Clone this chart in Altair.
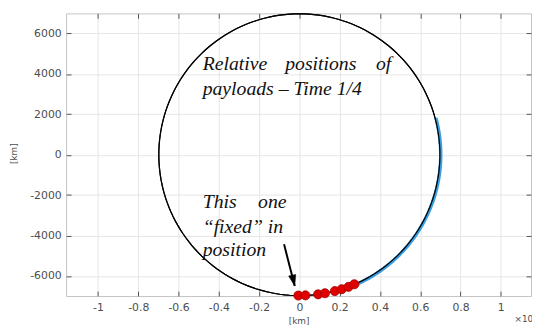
import numpy as np
import pandas as pd
import altair as alt

# ---- data ----
orbit_radius_km = 6978
orbit_deg = list(range(0, 361, 2))
arc_deg = list(range(-68, 16, 1))

payload_x = [-50, 300, 930, 1270, 1760, 2100, 2440, 2730]
payload_y = [-6975, -6965, -6915, -6860, -6755, -6660, -6545, -6415]

x_ticks = [-10000, -8000, -6000, -4000, -2000, 0, 2000, 4000, 6000, 8000, 10000]
y_ticks = [-6000, -4000, -2000, 0, 2000, 4000, 6000]

note_words = ["Relative", "positions", "of", "payloads \u2013 Time 1/4",
              "This", "one", "\u201cfixed\u201d in", "position"]
note_x = [-4800, -700, 3800, -4800, -4800, -2050, -4800, -4800]
note_y = [4195, 4195, 4195, 2976, -2634, -2634, -3854, -5024]

arrow_x = [-760, -230]
arrow_y = [-4440, -6500]

x_domain = [-11580, 11500]
y_domain = [-7000, 7000]

# ---- tables ----
th = np.deg2rad(orbit_deg)
orbit = pd.DataFrame({"x": orbit_radius_km * np.cos(th), "y": orbit_radius_km * np.sin(th), "i": range(len(orbit_deg))})
ta = np.deg2rad(arc_deg)
arc = pd.DataFrame({"x": (orbit_radius_km + 40) * np.cos(ta), "y": (orbit_radius_km + 40) * np.sin(ta), "i": range(len(arc_deg))})
payloads = pd.DataFrame({"x": payload_x, "y": payload_y})
notes = pd.DataFrame({"x": note_x, "y": note_y, "t": note_words})
arrow = pd.DataFrame({"x": arrow_x, "y": arrow_y, "i": [0, 1]})
tip = arrow.iloc[[1]]

lab_font = "DejaVu Sans"
lab_col = "#4d4d4d"

xs = alt.Scale(domain=x_domain, zero=False, nice=False)
ys = alt.Scale(domain=y_domain, zero=False, nice=False)

x_main = alt.X("x:Q", scale=xs, axis=alt.Axis(
    orient="bottom", values=x_ticks, labelExpr="'' + datum.value/10000",
    offset=-5, tickSize=5, domain=False, grid=True, gridColor="#e6e6e6",
    tickColor="#555555", labelPadding=6, labelFont=lab_font, labelFontSize=11,
    labelColor=lab_col, title="[km]", titleFont=lab_font, titleFontSize=9,
    titleFontWeight="normal", titleColor=lab_col, titlePadding=4))
y_main = alt.Y("y:Q", scale=ys, axis=alt.Axis(
    orient="left", values=y_ticks, labelExpr="'' + datum.value",
    offset=-5, tickSize=5, domain=False, grid=True, gridColor="#e6e6e6",
    tickColor="#555555", labelPadding=5, labelFont=lab_font, labelFontSize=11,
    labelColor=lab_col, title="[km]", titleFont=lab_font, titleFontSize=9,
    titleFontWeight="normal", titleColor=lab_col, titleX=-53, titleY=142))

x_top = alt.X("x:Q", scale=xs, axis=alt.Axis(
    orient="top", values=x_ticks, labels=False, offset=-5, tickSize=5,
    domain=False, grid=False, tickColor="#555555", title=None))
y_right = alt.Y("y:Q", scale=ys, axis=alt.Axis(
    orient="right", values=y_ticks, labels=False, offset=-5, tickSize=5,
    domain=False, grid=False, tickColor="#555555", title=None))

xn = alt.X("x:Q", axis=None)
yn = alt.Y("y:Q", axis=None)

base_layer = alt.Chart(orbit).mark_line(stroke="black", strokeWidth=1.2).encode(
    x=x_main, y=y_main, order="i:Q")

aux_layer = alt.Chart(payloads).mark_point(opacity=0).encode(x=x_top, y=y_right)

blue = alt.Chart(arc).mark_line(stroke="#3a9fe0", strokeWidth=3.5).encode(
    x=xn, y=yn, order="i:Q")
black = alt.Chart(orbit).mark_line(stroke="black", strokeWidth=1.2).encode(
    x=xn, y=yn, order="i:Q")

dots = alt.Chart(payloads).mark_point(
    shape="circle", filled=True, fill="#e00000", stroke="#a00000",
    strokeWidth=0.8, size=85, opacity=1).encode(x=xn, y=yn)

texts = alt.Chart(notes).mark_text(
    font="Liberation Serif", fontStyle="italic", fontSize=20, align="left",
    baseline="alphabetic", color="#111111").encode(x=xn, y=yn, text="t:N")

arrow_line = alt.Chart(arrow).mark_line(stroke="black", strokeWidth=2).encode(
    x=xn, y=yn, order="i:Q")
arrow_head = alt.Chart(tip).mark_point(
    shape="M0,0 L-0.33,1 L0.33,1 Z", filled=True, fill="black", stroke="black",
    strokeWidth=0.5, size=500, angle=166.6, opacity=1).encode(x=xn, y=yn)

exp_df = pd.DataFrame({"x": [10680], "y": [-8300], "t": ["\u00d710\u2074"]})
exponent = alt.Chart(exp_df).mark_text(
    font=lab_font, fontSize=9, align="left", baseline="alphabetic",
    color=lab_col).encode(x=xn, y=yn, text="t:N")

chart = alt.layer(
    base_layer, aux_layer, blue, black, dots, texts, arrow_line, arrow_head, exponent
).resolve_axis(x="independent", y="independent").properties(
    width=472, height=287,
    autosize=alt.AutoSizeParams(type="none"),
    padding={"left": 59, "top": 3, "right": 1, "bottom": 31},
    background="white",
).configure_view(stroke="#c4c4c4", strokeWidth=1)

chart.save("out.html", embed_options={"renderer": "svg", "actions": False})
